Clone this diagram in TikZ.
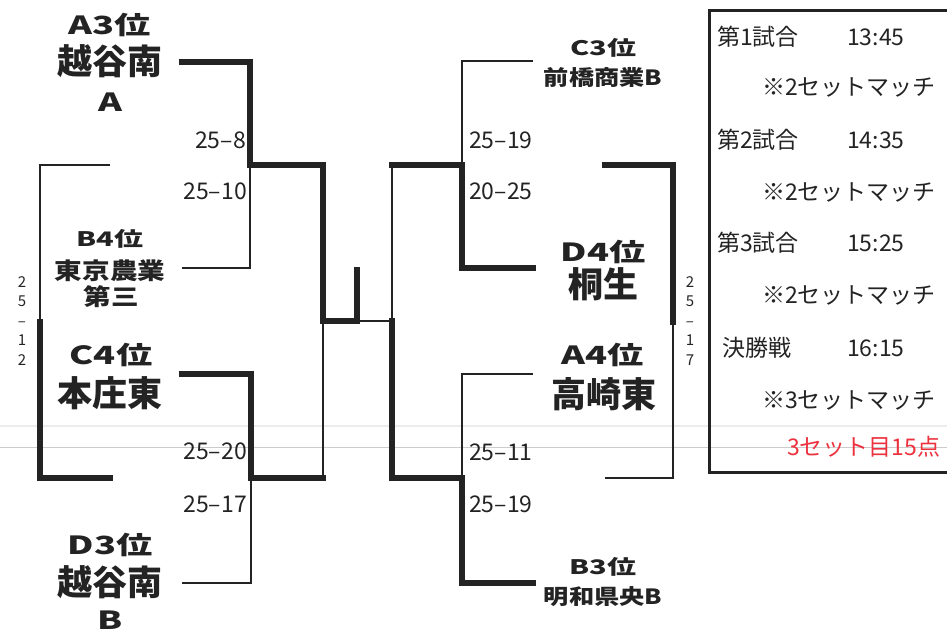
\documentclass[tikz,border=0pt]{standalone}
\usepackage{tikz}
\usepackage{fontspec}
\setmainfont{Noto Sans CJK JP}
\newfontfamily\jpw{Noto Sans CJK JP}[FakeStretch=1.2]
\newfontfamily\jpx{Noto Sans CJK JP}[FakeStretch=1.45]
\definecolor{ink}{RGB}{35,35,35}
\definecolor{setred}{RGB}{236,50,62}
\tikzset{
  win/.style={draw=ink,line width=5.5pt,line cap=rect},
  lose/.style={draw=ink,line width=1.4pt},
  rank/.style={font=\jpx\bfseries\fontsize{25}{25}\selectfont},
  rankS/.style={font=\jpx\bfseries\fontsize{20}{20}\selectfont},
  team/.style={font=\bfseries\fontsize{35}{35}\selectfont},
  teamM/.style={font=\jpw\bfseries\fontsize{23}{23}\selectfont},
  teamS/.style={font=\jpw\bfseries\fontsize{21}{21}\selectfont},
  score/.style={font=\fontsize{23}{23}\selectfont},
  vscore/.style={font=\fontsize{15}{19.5}\selectfont,align=center},
  info/.style={font=\fontsize{23}{23}\selectfont,anchor=west}
}

\begin{document}
\begin{tikzpicture}[x=1pt,y=-1pt,every node/.style={inner sep=0pt,text=ink}]
   \useasboundingbox (0,0) rectangle (947,633);
   % scan lines
   \draw[gray!15,line width=2pt] (0,426) -- (947,426);
   \draw[gray!40,line width=0.8pt] (0,447) -- (947,447);
   % teams, left
   \node[rank] (a3r) at (110,25) {A3位};
   \node[team] (a3n) at (110,61) {越谷南};
   \node[rank] (a3x) at (110,102) {A};
   \node[rankS] (b4r) at (110,239) {B4位};
   \node[teamM] (b4n) at (110,271) {東京農業};
   \node[teamM] (b4x) at (111,297) {第三};
   \node[rank] (c4r) at (111,355) {C4位};
   \node[team] (c4n) at (110,393) {本庄東};
   \node[rank] (d3r) at (110,545) {D3位};
   \node[team] (d3n) at (110,582) {越谷南};
   \node[rank] (d3x) at (110,620) {B};
   % teams, right
   \node[rankS] (c3r) at (603,48) {C3位};
   \node[teamS] (c3n) at (603,78) {前橋商業B};
   \node[rank] (d4r) at (603,252) {D4位};
   \node[team] (d4n) at (603,284) {桐生};
   \node[rank] (a4r) at (603,355) {A4位};
   \node[team] (a4n) at (604,394) {高崎東};
   \node[rankS] (b3r) at (603,567) {B3位};
   \node[teamS] (b3n) at (603,597) {明和県央B};
   % bracket points
   \coordinate (a3) at (182,62);
   \coordinate (b4) at (182,268);
   \coordinate (c4) at (182,374);
   \coordinate (d3) at (182,583);
   \coordinate (m1) at (250,165);
   \coordinate (m2) at (251,478);
   \coordinate (s1) at (323,321);
   \coordinate (fin) at (357,270);
   \coordinate (c3) at (533,61);
   \coordinate (d4) at (533,268);
   \coordinate (a4) at (533,374);
   \coordinate (b3) at (533,583);
   \coordinate (m3) at (462,165);
   \coordinate (m4) at (462,478);
   \coordinate (s2) at (392,321);
   % left half
   \draw[win] (a3) -| (m1) -- (s1 |- m1) -- (s1) -| (fin);
   \draw[lose] (b4) -| (m1);
   \draw[win] (c4) -| (m2) -- (s1 |- m2);
   \draw[lose] (d3) -| (m2);
   \draw[lose] (s1 |- m2) -- (s1);
   \draw[lose] (fin |- s1) -- (s2);
   % right half
   \draw[lose] (c3) -| (m3);
   \draw[win] (d4) -| (m3) -- (s2 |- m3);
   \draw[lose] (s2 |- m3) -- (s2);
   \draw[lose] (a4) -| (m4);
   \draw[win] (b3) -| (m4) -- (s2 |- m4) -- (s2);
   % side matches
   \coordinate (l1) at (110,165);
   \coordinate (l2) at (110,478);
   \coordinate (lm) at (40,322);
   \coordinate (r1) at (605,165);
   \coordinate (r2) at (605,478);
   \coordinate (rm) at (673,322);
   \draw[lose] (l1) -| (lm);
   \draw[win] (l2) -| (lm);
   \draw[win] (r1) -| (rm);
   \draw[lose] (r2) -| (rm);
   \node[vscore] (lsc) at (22,321) {2\\5\\–\\1\\2};
   \node[vscore] (rsc) at (690,321) {2\\5\\–\\1\\7};
   % scores
   \node[score,anchor=east] (sc1) at (246,140) {25–8};
   \node[score,anchor=east] (sc2) at (247,191) {25–10};
   \node[score,anchor=east] (sc3) at (247,451) {25–20};
   \node[score,anchor=east] (sc4) at (247,504) {25–17};
   \node[score,anchor=west] (sc5) at (469,140) {25–19};
   \node[score,anchor=west] (sc6) at (469,191) {20–25};
   \node[score,anchor=west] (sc7) at (469,452) {25–11};
   \node[score,anchor=west] (sc8) at (469,504) {25–19};
   % schedule
   \draw[ink,line width=3pt] (709,10) rectangle (960,472);
   \foreach \g/\t/\y in {第1試合/13:45/37,第2試合/14:35/140,第3試合/15:25/243} {
    \node[info] (g\y) at (717,\y) {\g};
    \node[info] (t\y) at (847,\y) {\t};
   }
   \node[info] (g348) at (722,348) {決勝戦};
   \node[info] (t348) at (847,348) {16:15};
   \foreach \y in {87,192,295} {
    \node[info] (s\y) at (762,\y) {※2セットマッチ};
   }
   \node[info] (s400) at (762,400) {※3セットマッチ};
   \node[info,text=setred] (red) at (787,447) {3セット目15点};
  \end{tikzpicture}
\end{document}
